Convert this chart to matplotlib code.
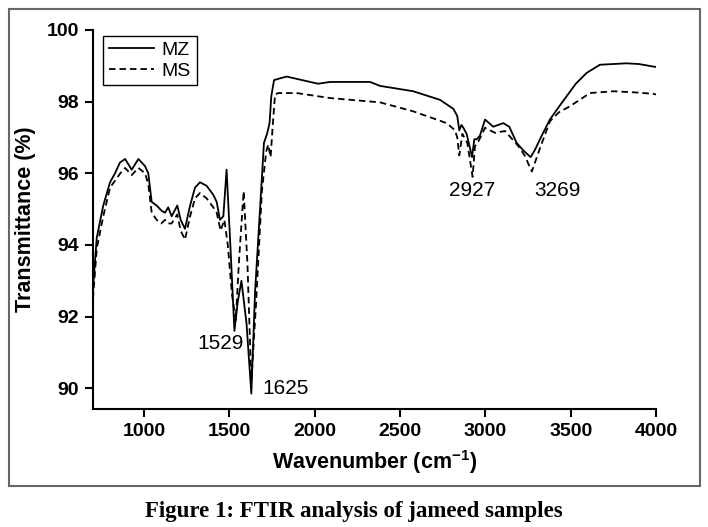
#FTIR spectra of jameed samples (MZ vs MS)
import numpy as np
import matplotlib
matplotlib.use("Agg")
import matplotlib.pyplot as plt
from matplotlib.patches import Rectangle

plt.rcParams["mathtext.fontset"] = "custom"
plt.rcParams["mathtext.rm"] = "Liberation Sans"
plt.rcParams["mathtext.bf"] = "Liberation Sans:bold"

#Values
mz_wn = [700, 722, 760, 800, 829, 858, 888, 927, 966, 1005, 1024, 1044, 1073, 1103,
         1122, 1141, 1161, 1194, 1214, 1239, 1269, 1298, 1327, 1366, 1405, 1425, 1444,
         1464, 1483, 1505, 1529, 1548, 1570, 1600, 1628, 1650, 1679, 1702, 1720, 1735,
         1745, 1761, 1796, 1835, 2019, 2089, 2324, 2382, 2577, 2734, 2812, 2835, 2847,
         2860, 2871, 2890, 2905, 2922, 2935, 2949, 2968, 2998, 3046, 3105, 3140, 3183,
         3220, 3265, 3290, 3330, 3378, 3430, 3476, 3530, 3593, 3671, 3750, 3827, 3900, 3983, 4000]
mz_t = [92.8, 94.2, 95.1, 95.75, 96.0, 96.3, 96.4, 96.1, 96.4, 96.2, 96.0, 95.2, 95.1, 94.95,
        94.9, 95.05, 94.8, 95.1, 94.7, 94.45, 95.1, 95.6, 95.75, 95.65, 95.4, 95.2, 94.7,
        94.8, 96.1, 94.0, 91.6, 92.4, 93.0, 91.8, 89.85, 92.7, 95.0, 96.85, 97.1, 97.4,
        98.15, 98.6, 98.65, 98.7, 98.5, 98.55, 98.55, 98.44, 98.29, 98.05, 97.8, 97.6, 97.2,
        97.35, 97.27, 97.1, 96.8, 96.45, 96.95, 96.95, 97.05, 97.5, 97.3, 97.4, 97.3, 96.85,
        96.65, 96.45, 96.65, 97.05, 97.5, 97.85, 98.15, 98.5, 98.8, 99.03, 99.05, 99.07, 99.05, 98.98, 98.97]

ms_wn = [700, 722, 760, 800, 830, 860, 888, 927, 966, 1005, 1024, 1044, 1073, 1100,
         1122, 1141, 1161, 1194, 1214, 1239, 1269, 1298, 1327, 1366, 1405, 1425, 1448,
         1470, 1490, 1515, 1537, 1555, 1583, 1605, 1628, 1655, 1690, 1715, 1727, 1741,
         1753, 1767, 1786, 1894, 2089, 2382, 2577, 2773, 2822, 2835, 2847, 2865, 2894,
         2925, 2939, 2960, 2998, 3056, 3115, 3193, 3230, 3272, 3320, 3378, 3430, 3495,
         3613, 3750, 3870, 3983, 4000]
ms_t = [92.5, 93.9, 94.8, 95.6, 95.8, 96.0, 96.15, 95.95, 96.15, 96.0, 95.7, 94.9, 94.7, 94.6,
        94.7, 94.6, 94.6, 94.85, 94.4, 94.15, 94.8, 95.3, 95.45, 95.3, 95.05, 94.9, 94.4,
        94.7, 94.0, 92.6, 91.9, 93.5, 95.5, 93.5, 90.2, 92.3, 95.5, 96.6, 96.8, 96.45,
        97.3, 98.2, 98.24, 98.24, 98.1, 97.98, 97.73, 97.4, 97.2, 97.0, 96.5, 97.1, 96.85,
        95.9, 96.76, 96.9, 97.27, 97.13, 97.18, 96.76, 96.5, 96.05, 96.7, 97.45, 97.7, 97.87,
        98.24, 98.29, 98.26, 98.22, 98.2]

peak_labels = ["1529", "1625", "2927", "3269"]
label_x = [1450, 1828, 2924, 3423]
label_y = [91.25, 89.99, 95.53, 95.53]

fig = plt.figure(figsize=(7.08, 5.27), dpi=100)
ax = fig.add_axes([93/708, 1-409/527, (656-93)/708, (409-30)/527])

ax.plot(mz_wn, mz_t, color="black", lw=1.3, label="MZ")
ax.plot(ms_wn, ms_t, color="black", lw=1.3, dashes=(3.6, 2.2), label="MS")

for lab, lx, ly in zip(peak_labels, label_x, label_y):
    ax.text(lx, ly, lab, ha="center", va="center", fontsize=15, family="Liberation Sans")

ax.set_xlim(700, 4000)
ax.set_ylim(89.42, 100)
ax.set_xticks([1000, 1500, 2000, 2500, 3000, 3500, 4000])
ax.set_yticks([90, 92, 94, 96, 98, 100])
ax.spines["top"].set_visible(False)
ax.spines["right"].set_visible(False)
ax.spines["left"].set_linewidth(1.5)
ax.spines["bottom"].set_linewidth(1.5)
ax.tick_params(length=6, width=1.5, labelsize=14, pad=4)
for t in ax.get_xticklabels() + ax.get_yticklabels():
    t.set_fontweight("bold")
    t.set_family("Liberation Sans")

ax.set_xlabel(r"Wavenumber (cm$^{\mathbf{-1}}$)", fontsize=15.5, fontweight="bold",
              family="Liberation Sans", labelpad=6)
ax.set_ylabel("Transmittance (%)", fontsize=15.5, fontweight="bold", family="Liberation Sans", labelpad=8)

leg = ax.legend(loc="upper left", bbox_to_anchor=(0.018, 0.985), borderaxespad=0, fancybox=False,
                edgecolor="black", framealpha=1, prop={"family": "Liberation Sans", "size": 14},
                handlelength=2.3, borderpad=0.3, labelspacing=0.15, handletextpad=0.4)
leg.get_frame().set_linewidth(1.0)

#Grey frame round the chart
fig.patches.append(Rectangle((9/708, 1-486/527), (700-9)/708, (486-9)/527, transform=fig.transFigure,
                             fill=False, edgecolor="#666666", lw=1.5))

fig.text(0.5, 1-512/527, "Figure 1: FTIR analysis of jameed samples", ha="center", va="center",
         fontsize=16.5, fontweight="bold", family="Liberation Serif")

fig.savefig("out.png", dpi=100)
